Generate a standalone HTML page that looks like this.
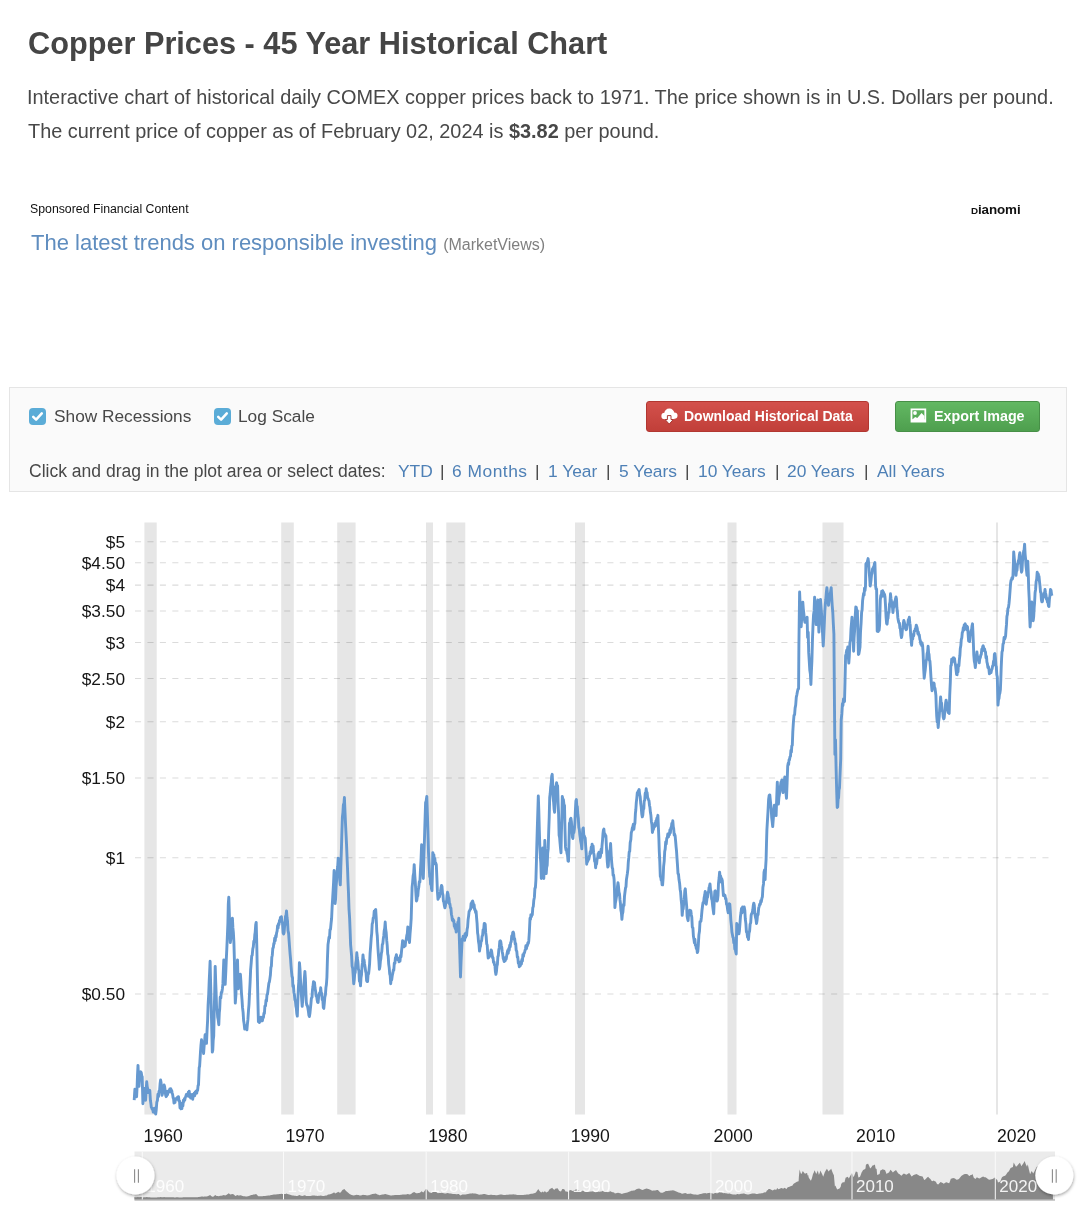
<!DOCTYPE html>
<html><head><meta charset="utf-8">
<style>
html,body{margin:0;padding:0;background:#fff;}
body{width:1079px;height:1215px;overflow:hidden;position:relative;font-family:"Liberation Sans",sans-serif;}
.a{position:absolute;white-space:nowrap;line-height:normal;will-change:transform;}
.ttl{font-weight:bold;color:#454545;}
.para{color:#484848;}
.lbl{color:#484848;}
.lnk{color:#4e80b6;}
#box{left:9px;top:387px;width:1056px;height:103px;background:#fafafa;border:1px solid #e5e5e5;}
.cb{position:absolute;width:17px;height:17.4px;border-radius:4px;background:#5bacd7;}
.btn{position:absolute;height:31px;border-radius:3px;color:#fff;font-weight:bold;box-sizing:border-box;}
#dl{left:645.5px;top:400.5px;width:223.5px;background:linear-gradient(#d3514c,#c13f39);border:1px solid #b23731;}
#ex{left:894.8px;top:400.7px;width:144.8px;background:linear-gradient(#63b863,#4e9f4e);border:1px solid #478f47;}
svg.main{position:absolute;left:0;top:0;will-change:transform;}
</style></head><body>
<div class="a ttl" style="left:28.3px;top:26.1px;font-size:30.7px;">Copper Prices - 45 Year Historical Chart</div>
<div class="a para" style="left:27.3px;top:85.5px;font-size:19.9px;">Interactive chart of historical daily COMEX copper prices back to 1971. The price shown is in U.S. Dollars per pound.</div>
<div class="a para" style="left:27.8px;top:120.3px;font-size:19.9px;">The current price of copper as of February 02, 2024 is <b>$3.82</b> per pound.</div>
<div class="a " style="left:30.0px;top:202.0px;font-size:12.3px;color:#111">Sponsored Financial Content</div>
<div class="a" style="left:970.5px;top:204.5px;font-size:13.4px;line-height:10px;font-weight:bold;color:#111;letter-spacing:-0.1px"><span style="font-size:9.8px">D</span>ianomi</div>
<div class="a " style="left:30.6px;top:230.4px;font-size:22px;color:#5f8dbf">The latest trends on responsible investing <span style="font-size:16px;color:#808080">(MarketViews)</span></div>
<div class="a" id="box"></div>
<div class="cb" style="left:29.3px;top:407.6px"><svg width="17" height="17" viewBox="0 0 17 17" style="position:absolute;left:0;top:0"><path d="M4.2 8.9 L7.1 11.7 L12.8 5.4" stroke="#fff" stroke-width="2.5" fill="none" stroke-linecap="round" stroke-linejoin="round"/></svg></div>
<div class="cb" style="left:214.2px;top:407.6px"><svg width="17" height="17" viewBox="0 0 17 17" style="position:absolute;left:0;top:0"><path d="M4.2 8.9 L7.1 11.7 L12.8 5.4" stroke="#fff" stroke-width="2.5" fill="none" stroke-linecap="round" stroke-linejoin="round"/></svg></div>
<div class="a lbl" style="left:54.0px;top:405.8px;font-size:17.3px;">Show Recessions</div>
<div class="a lbl" style="left:238.0px;top:405.8px;font-size:17.3px;">Log Scale</div>
<div class="a lbl" style="left:29.0px;top:461.2px;font-size:17.55px;">Click and drag in the plot area or select dates:</div>
<div class="a lnk" style="left:398.0px;top:461.3px;font-size:17.4px;">YTD</div>
<div class="a lnk" style="left:452.0px;top:461.3px;font-size:17.4px;"><span style="letter-spacing:0.5px">6 Months</span></div>
<div class="a lnk" style="left:547.5px;top:461.3px;font-size:17.4px;">1 Year</div>
<div class="a lnk" style="left:618.5px;top:461.3px;font-size:17.4px;">5 Years</div>
<div class="a lnk" style="left:697.5px;top:461.3px;font-size:17.4px;">10 Years</div>
<div class="a lnk" style="left:787.0px;top:461.3px;font-size:17.4px;">20 Years</div>
<div class="a lnk" style="left:876.5px;top:461.3px;font-size:17.4px;">All Years</div>
<div class="a lbl" style="left:439.5px;top:461.3px;font-size:17.4px;">|</div>
<div class="a lbl" style="left:534.7px;top:461.3px;font-size:17.4px;">|</div>
<div class="a lbl" style="left:606.2px;top:461.3px;font-size:17.4px;">|</div>
<div class="a lbl" style="left:685.2px;top:461.3px;font-size:17.4px;">|</div>
<div class="a lbl" style="left:774.5px;top:461.3px;font-size:17.4px;">|</div>
<div class="a lbl" style="left:864.3px;top:461.3px;font-size:17.4px;">|</div>
<div class="btn" id="dl"><svg width="224" height="31" viewBox="0 0 224 31" style="position:absolute;left:-1px;top:-1px"><g fill="#fff"><circle cx="23.3" cy="12.6" r="5"/><circle cx="18.6" cy="15" r="3.2"/><circle cx="28.3" cy="14.6" r="3.2"/><rect x="18.6" y="13" width="9.7" height="5.2"/></g><path d="M21.4 14.6 h3.6 v3.9 h2.3 l-4.1 4.6 l-4.1 -4.6 h2.3 Z" fill="#fff" stroke="#a83a34" stroke-width="1"/></svg><span class="a" style="left:37.5px;top:6px;font-size:14px">Download Historical Data</span></div>
<div class="btn" id="ex"><svg width="145" height="31" viewBox="0 0 145 31" style="position:absolute;left:-1px;top:-1px"><path fill-rule="evenodd" fill="#fff" d="M15.6 7.4 h15.6 v14.2 h-15.6 Z M17.4 9.2 v9 h12 v-9 Z"/><circle cx="20" cy="12" r="1.9" fill="#fff"/><path d="M17.4 18.4 L20.2 16 L22.3 17.1 L26.6 12 L29.4 15 L29.4 19 L17.4 19 Z" fill="#fff"/></svg><span class="a" style="left:38px;top:6px;font-size:14.3px">Export Image</span></div>
<svg class="main" width="1079" height="1215" viewBox="0 0 1079 1215">
<g><rect x="144.4" y="522.5" width="12.3" height="592" fill="#e6e6e6"/><rect x="281.2" y="522.5" width="12.6" height="592" fill="#e6e6e6"/><rect x="337.2" y="522.5" width="18.4" height="592" fill="#e6e6e6"/><rect x="426.0" y="522.5" width="7.0" height="592" fill="#e6e6e6"/><rect x="446.3" y="522.5" width="19.0" height="592" fill="#e6e6e6"/><rect x="575.0" y="522.5" width="10.0" height="592" fill="#e6e6e6"/><rect x="727.5" y="522.5" width="9.0" height="592" fill="#e6e6e6"/><rect x="822.5" y="522.5" width="21.0" height="592" fill="#e6e6e6"/><rect x="996.0" y="522.5" width="2.0" height="592" fill="#e6e6e6"/></g>
<g><line x1="135" y1="541.8" x2="1050" y2="541.8" stroke="#000" stroke-opacity="0.14" stroke-width="1.1" stroke-dasharray="6.1,6.33"/><line x1="135" y1="562.7" x2="1050" y2="562.7" stroke="#000" stroke-opacity="0.14" stroke-width="1.1" stroke-dasharray="6.1,6.33"/><line x1="135" y1="585.1" x2="1050" y2="585.1" stroke="#000" stroke-opacity="0.14" stroke-width="1.1" stroke-dasharray="6.1,6.33"/><line x1="135" y1="611.0" x2="1050" y2="611.0" stroke="#000" stroke-opacity="0.14" stroke-width="1.1" stroke-dasharray="6.1,6.33"/><line x1="135" y1="642.5" x2="1050" y2="642.5" stroke="#000" stroke-opacity="0.14" stroke-width="1.1" stroke-dasharray="6.1,6.33"/><line x1="135" y1="678.5" x2="1050" y2="678.5" stroke="#000" stroke-opacity="0.14" stroke-width="1.1" stroke-dasharray="6.1,6.33"/><line x1="135" y1="721.7" x2="1050" y2="721.7" stroke="#000" stroke-opacity="0.14" stroke-width="1.1" stroke-dasharray="6.1,6.33"/><line x1="135" y1="778.0" x2="1050" y2="778.0" stroke="#000" stroke-opacity="0.14" stroke-width="1.1" stroke-dasharray="6.1,6.33"/><line x1="135" y1="857.8" x2="1050" y2="857.8" stroke="#000" stroke-opacity="0.14" stroke-width="1.1" stroke-dasharray="6.1,6.33"/><line x1="135" y1="994.0" x2="1050" y2="994.0" stroke="#000" stroke-opacity="0.14" stroke-width="1.1" stroke-dasharray="6.1,6.33"/></g>
<g font-family="Liberation Sans" font-size="17.3" fill="#151515"><text x="125" y="548.0" text-anchor="end">$5</text><text x="125" y="568.9" text-anchor="end">$4.50</text><text x="125" y="591.3" text-anchor="end">$4</text><text x="125" y="617.2" text-anchor="end">$3.50</text><text x="125" y="648.7" text-anchor="end">$3</text><text x="125" y="684.7" text-anchor="end">$2.50</text><text x="125" y="727.9" text-anchor="end">$2</text><text x="125" y="784.2" text-anchor="end">$1.50</text><text x="125" y="864.0" text-anchor="end">$1</text><text x="125" y="1000.2" text-anchor="end">$0.50</text></g>
<g font-family="Liberation Sans" font-size="17.6" fill="#151515"><text x="143.6" y="1141.5">1960</text><text x="285.5" y="1141.5">1970</text><text x="428.3" y="1141.5">1980</text><text x="570.7" y="1141.5">1990</text><text x="713.6" y="1141.5">2000</text><text x="856.1" y="1141.5">2010</text><text x="997.0" y="1141.5">2020</text></g>
<path d="M134.2,1100.2 L134.9,1089.1 L135.5,1091.0 L136.0,1095.6 L136.6,1096.7 L137.1,1086.8 L137.5,1075.3 L138.0,1065.4 L138.5,1077.3 L139.0,1086.3 L139.5,1079.7 L139.9,1078.6 L140.4,1073.8 L140.8,1071.8 L141.3,1072.9 L141.8,1076.1 L142.2,1076.6 L142.9,1103.7 L143.5,1097.8 L144.0,1094.4 L144.6,1088.4 L145.1,1094.2 L145.6,1100.2 L146.1,1091.2 L146.7,1081.8 L147.2,1086.7 L147.6,1088.3 L148.1,1092.5 L148.7,1090.0 L149.2,1092.3 L149.8,1090.5 L150.4,1100.3 L150.9,1103.7 L151.3,1107.2 L151.8,1108.0 L152.2,1109.2 L152.7,1108.5 L153.2,1112.1 L153.7,1109.3 L154.2,1112.2 L154.7,1108.1 L155.2,1112.6 L155.7,1114.1 L156.2,1110.1 L156.8,1102.3 L157.4,1100.6 L157.9,1094.3 L158.5,1096.7 L159.0,1091.2 L159.6,1090.3 L160.1,1083.8 L160.6,1080.0 L161.1,1082.8 L161.5,1089.6 L162.0,1095.3 L162.5,1093.6 L163.1,1088.8 L163.6,1090.0 L164.1,1084.9 L164.6,1086.4 L165.1,1090.1 L165.6,1094.8 L166.1,1096.7 L166.6,1096.0 L167.0,1091.4 L167.5,1094.9 L168.0,1091.1 L168.4,1092.4 L168.9,1090.5 L169.4,1091.4 L169.8,1089.0 L170.3,1091.8 L170.8,1088.8 L171.2,1092.0 L171.7,1090.5 L172.2,1093.1 L172.6,1094.4 L173.1,1097.7 L173.6,1099.0 L174.0,1103.0 L174.5,1102.3 L175.0,1102.4 L175.5,1098.8 L176.0,1099.5 L176.5,1099.2 L177.0,1099.3 L177.5,1097.3 L178.0,1099.1 L178.5,1096.7 L179.0,1101.1 L179.5,1100.9 L180.0,1107.8 L180.5,1106.4 L181.0,1108.9 L181.5,1103.3 L181.9,1108.5 L182.4,1102.9 L182.9,1105.9 L183.4,1100.3 L183.9,1101.4 L184.4,1098.8 L184.8,1100.1 L185.3,1097.2 L185.8,1096.4 L186.3,1094.6 L186.8,1095.4 L187.3,1095.3 L187.8,1096.0 L188.3,1092.2 L188.8,1094.7 L189.2,1091.2 L189.7,1097.0 L190.2,1094.2 L190.7,1098.0 L191.2,1096.7 L191.7,1098.0 L192.2,1094.4 L192.7,1099.2 L193.2,1095.4 L193.7,1095.5 L194.2,1093.2 L194.7,1095.8 L195.2,1091.9 L195.7,1093.0 L196.2,1091.0 L196.7,1093.2 L197.1,1090.4 L197.6,1090.5 L198.1,1085.5 L198.5,1084.9 L199.2,1067.5 L199.6,1066.4 L200.0,1060.0 L200.5,1051.5 L201.0,1044.9 L201.5,1039.8 L202.0,1041.9 L202.6,1047.8 L203.1,1049.5 L203.6,1053.5 L204.1,1046.4 L204.6,1041.7 L205.1,1034.8 L205.6,1039.6 L206.0,1040.8 L206.5,1043.4 L207.1,1029.6 L207.6,1020.5 L208.1,1005.1 L208.7,994.5 L209.2,981.1 L209.6,972.8 L210.1,961.3 L210.7,986.5 L211.2,1006.0 L211.8,1030.7 L212.3,1052.1 L212.8,1050.0 L213.2,1040.4 L213.7,1036.2 L214.2,1012.7 L214.7,992.0 L215.2,966.4 L215.7,982.1 L216.1,992.0 L216.6,1008.9 L217.2,1009.6 L217.7,1017.3 L218.2,1019.6 L218.8,1024.7 L219.3,1012.9 L219.7,1009.0 L220.2,997.3 L220.8,998.1 L221.3,992.4 L221.8,992.5 L222.4,988.7 L222.9,983.9 L223.3,972.4 L223.8,959.9 L224.3,967.7 L224.7,975.8 L225.2,984.4 L225.8,971.7 L226.3,959.4 L226.8,949.0 L227.4,935.4 L227.9,922.9 L228.3,903.9 L228.8,897.2 L229.3,912.8 L229.8,929.9 L230.3,942.6 L230.8,938.7 L231.4,930.6 L231.9,923.1 L232.4,918.1 L232.9,927.9 L233.4,933.0 L233.9,942.6 L234.4,960.0 L234.8,984.0 L235.3,1003.1 L235.9,994.8 L236.4,980.2 L236.9,971.9 L237.5,959.9 L238.2,988.7 L238.8,984.2 L239.3,981.5 L239.8,978.4 L240.4,974.3 L240.9,981.5 L241.4,992.1 L242.0,999.5 L242.5,1007.4 L243.1,1012.4 L243.6,1020.5 L244.1,1023.6 L244.7,1029.0 L245.2,1028.4 L245.8,1028.1 L246.3,1025.4 L246.9,1029.8 L247.4,1024.1 L247.9,1019.7 L248.5,1010.4 L249.0,1004.5 L249.6,991.7 L250.1,982.3 L250.6,970.2 L251.2,962.8 L251.7,956.1 L252.2,955.3 L252.8,948.8 L253.3,946.9 L253.8,941.2 L254.3,942.1 L254.8,934.8 L255.2,932.1 L255.7,924.9 L256.2,922.4 L256.8,945.8 L257.3,972.1 L257.8,995.7 L258.4,1021.8 L258.9,1019.9 L259.4,1022.6 L259.9,1018.4 L260.4,1021.4 L260.9,1017.1 L261.4,1019.6 L261.9,1017.4 L262.4,1020.9 L262.9,1017.5 L263.4,1017.5 L263.9,1013.3 L264.4,1013.5 L264.9,1006.0 L265.5,1005.9 L266.0,1000.2 L266.5,1001.1 L267.0,994.5 L267.5,994.2 L268.0,990.1 L268.4,987.0 L268.9,983.0 L269.4,981.9 L269.9,978.6 L270.4,975.0 L270.9,967.4 L271.4,966.0 L271.8,957.4 L272.3,955.2 L272.8,948.4 L273.3,947.7 L273.8,943.4 L274.2,943.7 L274.7,938.2 L275.2,940.8 L275.7,935.7 L276.1,937.1 L276.6,932.9 L277.1,931.1 L277.6,925.6 L278.1,928.1 L278.5,923.6 L279.0,924.7 L279.5,920.4 L280.0,921.4 L280.4,917.5 L280.9,918.2 L281.4,916.7 L281.9,921.1 L282.5,922.9 L283.1,932.9 L283.6,934.0 L284.1,932.5 L284.6,926.2 L285.1,923.6 L285.5,916.3 L286.0,915.7 L286.5,910.9 L287.0,917.3 L287.5,920.9 L288.0,930.5 L288.6,933.4 L289.1,940.7 L289.6,947.5 L290.1,954.1 L290.6,959.4 L291.0,965.5 L291.5,971.4 L292.0,976.4 L292.5,977.6 L292.9,986.5 L293.4,985.3 L293.9,992.2 L294.4,994.5 L294.9,999.8 L295.4,1000.7 L295.9,1006.1 L296.3,1007.9 L296.8,1013.7 L297.3,1016.1 L297.8,1002.1 L298.4,987.0 L298.9,980.2 L299.4,962.8 L299.5,963.1 L300.0,969.4 L300.6,982.1 L301.1,990.4 L301.7,999.6 L302.2,1006.3 L302.7,1000.5 L303.3,991.7 L303.8,986.3 L304.4,977.5 L304.9,971.4 L305.4,978.6 L305.8,990.5 L306.3,1002.2 L306.8,1005.3 L307.3,1005.4 L307.9,1008.3 L308.4,1011.2 L308.9,1015.2 L309.4,1016.6 L309.9,1013.6 L310.4,1008.5 L310.9,1003.8 L311.4,998.1 L312.0,997.4 L312.5,989.6 L313.0,986.3 L313.5,981.6 L314.0,985.4 L314.5,982.4 L315.0,987.8 L315.6,991.2 L316.1,996.0 L316.6,995.6 L317.1,999.8 L317.6,1002.2 L318.1,1002.5 L318.6,997.2 L319.1,994.0 L319.7,992.7 L320.2,993.2 L320.7,987.8 L321.2,992.7 L321.7,993.3 L322.2,999.6 L322.8,999.9 L323.3,1007.5 L323.8,1008.4 L324.3,1003.4 L324.8,997.5 L325.4,994.8 L325.9,987.8 L326.4,984.5 L326.9,977.5 L327.4,960.1 L328.0,944.6 L328.5,941.1 L329.0,937.2 L329.5,938.1 L330.0,929.6 L330.5,929.4 L331.0,924.0 L331.6,918.5 L332.1,907.6 L332.6,899.1 L333.1,890.8 L333.6,882.1 L334.1,870.5 L334.6,885.6 L335.1,903.5 L335.6,898.8 L336.1,887.0 L336.6,880.1 L337.2,870.2 L337.7,866.5 L338.2,858.2 L338.7,866.9 L339.2,869.7 L339.8,880.4 L340.3,884.9 L340.8,867.6 L341.4,849.6 L341.9,832.2 L342.4,817.0 L342.9,812.6 L343.4,804.5 L343.9,804.6 L344.4,797.5 L345.0,811.8 L345.5,823.5 L346.1,835.6 L346.6,846.1 L347.1,858.6 L347.5,867.5 L348.0,881.9 L348.5,893.2 L349.0,908.8 L349.6,917.9 L350.1,930.3 L350.6,944.6 L351.1,950.2 L351.6,955.8 L352.1,966.2 L352.7,968.3 L353.2,975.5 L353.7,983.7 L354.2,980.1 L354.7,973.7 L355.2,972.7 L355.8,963.3 L356.3,960.6 L356.8,952.8 L357.3,958.1 L357.9,961.9 L358.4,969.1 L358.9,970.9 L359.4,981.3 L360.0,981.0 L360.5,985.8 L361.0,977.7 L361.5,974.8 L362.0,966.5 L362.5,962.4 L363.0,954.9 L363.5,960.3 L364.0,959.8 L364.5,963.5 L365.1,967.3 L365.6,971.1 L366.1,973.3 L366.6,980.6 L367.1,981.6 L367.6,981.5 L368.1,974.1 L368.6,973.9 L369.1,969.3 L369.6,963.8 L370.1,953.1 L370.6,946.9 L371.2,938.2 L371.7,933.3 L372.2,924.0 L372.7,922.6 L373.2,917.8 L373.7,917.6 L374.2,911.3 L374.7,913.1 L375.2,909.9 L375.7,909.6 L376.2,917.7 L376.8,931.3 L377.3,936.0 L377.8,945.9 L378.3,953.4 L378.9,960.9 L379.4,969.3 L379.9,966.8 L380.4,961.1 L380.8,959.0 L381.3,953.8 L381.8,951.5 L382.3,944.6 L382.8,943.8 L383.3,938.8 L383.8,935.7 L384.2,930.7 L384.7,928.4 L385.2,922.0 L385.7,929.5 L386.2,932.6 L386.7,940.2 L387.2,945.4 L387.7,953.8 L388.2,955.8 L388.7,964.1 L389.2,967.6 L389.7,973.9 L390.2,975.7 L390.7,983.7 L391.2,978.7 L391.7,979.9 L392.3,975.3 L392.8,973.2 L393.3,969.9 L393.8,970.1 L394.3,963.1 L394.9,963.4 L395.4,958.0 L395.9,957.0 L396.4,954.7 L396.9,959.3 L397.4,957.7 L397.9,959.7 L398.5,958.2 L399.0,961.7 L399.5,958.3 L400.0,961.1 L400.5,955.5 L401.0,956.9 L401.6,950.3 L402.1,946.0 L402.6,940.7 L403.1,942.8 L403.6,942.3 L404.2,946.7 L404.7,944.4 L405.2,945.9 L405.7,940.8 L406.2,940.0 L406.8,935.4 L407.3,933.6 L407.8,926.9 L408.4,934.1 L408.9,938.5 L409.5,942.5 L410.1,933.0 L410.6,927.4 L411.2,918.3 L411.6,904.1 L412.1,887.2 L412.6,882.6 L413.1,876.1 L413.7,873.1 L414.2,864.7 L414.8,875.3 L415.3,882.1 L415.8,892.0 L416.4,901.0 L416.8,900.2 L417.3,896.5 L417.8,895.9 L418.2,890.6 L418.8,887.1 L419.3,881.6 L419.9,882.0 L420.5,868.7 L421.0,860.0 L421.6,844.8 L422.2,860.4 L422.7,867.0 L423.3,878.5 L423.8,863.2 L424.2,848.6 L424.7,831.3 L425.1,818.0 L425.6,802.5 L426.2,801.0 L426.8,796.4 L427.4,814.4 L427.9,830.4 L428.5,852.6 L429.1,865.2 L429.7,876.8 L430.2,877.3 L430.6,884.3 L431.1,883.7 L431.5,888.7 L432.0,890.6 L432.4,874.8 L432.8,852.6 L433.3,855.1 L433.8,854.7 L434.3,859.3 L434.8,858.5 L435.3,864.0 L435.8,863.1 L436.3,864.7 L436.9,878.0 L437.4,891.4 L438.0,899.3 L438.5,898.0 L439.0,895.6 L439.5,896.8 L440.0,893.6 L440.5,891.3 L441.0,888.1 L441.5,885.4 L442.0,886.6 L442.5,893.1 L443.0,895.1 L443.4,901.1 L443.9,902.2 L444.4,905.7 L444.9,907.9 L445.4,905.9 L445.9,901.7 L446.5,902.8 L447.0,895.6 L447.5,892.3 L448.0,894.0 L448.5,897.4 L449.0,898.3 L449.5,904.1 L449.9,903.9 L450.4,907.7 L450.9,908.0 L451.4,914.2 L451.9,916.5 L452.4,920.4 L452.9,919.1 L453.3,921.3 L453.8,920.5 L454.3,926.4 L454.8,924.2 L455.2,928.6 L455.7,927.7 L456.2,932.1 L456.7,928.9 L457.2,928.7 L457.8,922.3 L458.3,923.3 L458.8,918.3 L459.4,940.6 L459.9,956.6 L460.5,977.0 L461.1,960.8 L461.6,950.6 L462.2,939.0 L462.7,939.5 L463.2,936.3 L463.7,940.0 L464.2,937.0 L464.6,940.3 L465.1,933.7 L465.6,937.3 L466.1,932.9 L466.6,935.5 L467.1,929.4 L467.6,927.0 L468.1,919.6 L468.6,916.1 L469.1,911.3 L469.6,910.9 L470.1,909.4 L470.6,909.1 L471.1,903.5 L471.6,906.4 L472.1,901.7 L472.6,901.0 L473.1,902.6 L473.6,907.5 L474.1,904.6 L474.6,909.6 L475.1,909.5 L475.6,912.4 L476.1,911.3 L476.6,917.9 L477.1,923.7 L477.6,933.1 L478.0,935.3 L478.5,941.6 L479.0,944.4 L479.5,951.1 L480.0,947.5 L480.5,946.2 L481.1,941.1 L481.6,940.9 L482.1,936.2 L482.6,935.4 L483.1,929.7 L483.7,929.6 L484.2,923.5 L484.7,923.4 L485.2,924.2 L485.7,932.7 L486.2,936.8 L486.7,943.9 L487.2,945.0 L487.7,952.5 L488.2,958.0 L488.7,957.5 L489.2,955.0 L489.7,956.3 L490.1,952.9 L490.6,955.0 L491.1,949.9 L491.6,951.1 L492.1,954.6 L492.6,957.8 L493.0,957.7 L493.5,962.4 L494.0,961.8 L494.5,964.9 L494.9,965.0 L495.4,971.8 L495.9,974.4 L496.4,971.8 L496.9,966.2 L497.4,964.4 L497.9,956.3 L498.3,955.8 L498.8,949.9 L499.3,947.7 L499.8,941.2 L500.3,940.7 L500.8,941.8 L501.3,945.5 L501.8,947.4 L502.2,951.7 L502.7,954.1 L503.2,958.4 L503.7,959.7 L504.2,961.6 L504.7,959.0 L505.2,960.8 L505.7,957.5 L506.2,959.0 L506.7,955.8 L507.2,952.8 L507.7,950.5 L508.2,953.3 L508.7,948.7 L509.2,950.3 L509.7,945.3 L510.2,946.9 L510.7,942.3 L511.2,941.9 L511.7,936.0 L512.2,938.2 L512.7,932.6 L513.2,932.1 L513.7,933.5 L514.2,939.5 L514.7,938.8 L515.2,944.0 L515.7,943.5 L516.2,950.3 L516.8,951.4 L517.3,957.2 L517.8,957.0 L518.3,963.2 L518.8,962.8 L519.3,966.7 L519.8,963.4 L520.3,965.8 L520.9,961.7 L521.4,964.1 L521.9,959.4 L522.4,961.2 L522.9,954.7 L523.5,956.3 L524.0,953.0 L524.5,952.8 L525.0,950.5 L525.5,948.8 L525.9,945.8 L526.4,948.7 L526.9,946.0 L527.4,945.7 L527.8,942.9 L528.3,943.5 L528.8,940.7 L529.4,931.5 L530.0,918.3 L530.5,919.5 L530.9,914.7 L531.4,916.7 L531.8,914.5 L532.3,914.6 L532.8,907.7 L533.3,906.5 L533.8,900.2 L534.4,897.2 L534.9,888.3 L535.4,887.6 L535.9,880.0 L536.4,862.6 L536.8,845.8 L537.3,828.1 L537.8,812.5 L538.3,796.0 L538.8,810.4 L539.3,829.3 L539.8,846.0 L540.3,856.0 L540.8,863.1 L541.3,878.5 L541.8,866.8 L542.3,861.5 L542.8,847.9 L543.3,863.2 L543.8,878.5 L544.3,861.8 L544.8,840.5 L545.3,852.6 L545.7,862.4 L546.2,873.6 L546.7,867.0 L547.2,865.3 L547.7,853.0 L548.2,848.9 L548.7,831.3 L549.2,817.8 L549.7,797.5 L550.2,793.5 L550.7,786.6 L551.2,783.3 L551.7,776.2 L552.2,774.3 L552.7,783.8 L553.1,797.5 L553.6,802.0 L554.1,809.2 L554.6,812.3 L555.1,802.4 L555.6,786.7 L556.1,786.5 L556.6,782.6 L557.1,786.5 L557.6,785.7 L558.1,802.9 L558.6,813.9 L559.1,835.1 L559.6,837.4 L560.0,842.4 L560.5,848.1 L561.0,852.8 L561.4,832.4 L561.9,816.5 L562.3,796.5 L562.8,798.8 L563.4,799.6 L564.0,805.0 L564.5,805.4 L565.0,829.3 L565.5,846.9 L566.0,850.0 L566.5,849.8 L567.0,853.4 L567.5,855.1 L568.0,860.9 L568.5,861.2 L569.0,842.4 L569.4,823.2 L569.9,823.2 L570.4,819.0 L570.9,818.3 L571.4,821.4 L571.9,830.7 L572.4,837.0 L572.9,838.5 L573.4,831.5 L573.9,832.6 L574.4,829.1 L574.9,822.0 L575.4,810.2 L575.9,801.0 L576.4,799.6 L576.8,806.3 L577.3,806.4 L577.8,814.3 L578.3,818.2 L578.8,827.2 L579.3,829.3 L579.8,834.5 L580.3,838.0 L580.8,841.8 L581.3,844.4 L581.8,848.9 L582.3,838.0 L582.8,829.1 L583.3,827.9 L583.8,835.3 L584.2,835.7 L584.7,837.2 L585.2,838.0 L585.7,846.5 L586.2,853.1 L586.7,864.2 L587.2,859.7 L587.7,861.5 L588.2,858.1 L588.7,859.5 L589.2,857.3 L589.7,854.8 L590.2,851.8 L590.7,853.7 L591.2,847.2 L591.6,849.9 L592.1,844.2 L592.6,848.4 L593.1,845.9 L593.6,852.7 L594.1,855.2 L594.6,861.3 L595.1,860.8 L595.6,867.7 L596.1,863.6 L596.6,863.9 L597.1,859.1 L597.6,858.1 L598.1,853.8 L598.6,856.4 L599.0,852.2 L599.5,857.3 L600.0,857.6 L600.5,856.0 L601.1,849.3 L601.6,852.9 L602.0,845.9 L602.5,840.6 L603.0,833.4 L603.4,830.2 L603.9,829.1 L604.4,836.0 L604.9,833.9 L605.4,835.6 L605.9,835.7 L606.4,846.2 L606.8,853.5 L607.3,862.1 L607.8,867.0 L608.3,866.1 L608.7,856.5 L609.2,855.6 L609.7,850.6 L610.1,850.0 L610.6,843.5 L611.2,855.6 L611.7,862.3 L612.2,867.7 L612.7,868.8 L613.1,875.4 L613.6,875.1 L614.1,879.5 L614.5,890.3 L614.9,907.6 L615.4,902.6 L615.9,900.3 L616.5,896.3 L617.0,894.5 L617.5,886.4 L618.0,882.6 L618.5,886.6 L619.0,892.3 L619.5,893.9 L620.0,899.9 L620.4,903.1 L620.9,910.2 L621.4,912.6 L621.9,919.3 L622.4,913.9 L622.9,912.2 L623.5,904.4 L624.0,905.4 L624.5,896.1 L625.0,892.0 L625.5,888.1 L626.0,886.7 L626.4,879.8 L626.9,876.6 L627.4,873.2 L627.9,869.1 L628.3,862.2 L628.8,857.4 L629.2,851.9 L629.7,851.3 L630.2,842.6 L630.8,839.8 L631.3,832.5 L631.8,831.2 L632.3,828.1 L632.8,826.9 L633.4,824.1 L633.9,829.2 L634.4,824.7 L634.9,823.2 L635.4,813.4 L635.8,810.0 L636.3,802.4 L636.8,798.1 L637.3,792.7 L637.7,794.8 L638.2,791.2 L638.6,790.5 L639.1,789.5 L639.6,794.1 L640.2,796.8 L640.7,803.3 L641.2,807.1 L641.8,814.3 L642.3,816.9 L642.8,815.1 L643.3,809.1 L643.8,808.8 L644.2,801.0 L644.7,800.3 L645.2,793.3 L645.7,793.6 L646.2,788.8 L646.7,793.2 L647.1,792.5 L647.6,797.5 L648.0,798.3 L648.5,799.7 L649.0,800.9 L649.5,805.5 L649.9,807.2 L650.4,812.3 L650.9,815.3 L651.4,821.4 L651.9,824.5 L652.4,832.5 L652.9,829.7 L653.4,829.6 L653.9,825.5 L654.4,827.1 L654.9,823.2 L655.4,826.1 L655.9,821.0 L656.4,820.6 L656.9,818.1 L657.4,817.8 L657.9,815.3 L658.4,827.5 L658.9,839.1 L659.3,851.8 L659.8,861.6 L660.3,876.3 L660.8,877.4 L661.2,880.4 L661.7,880.4 L662.1,884.8 L662.6,884.9 L663.1,878.5 L663.6,866.7 L664.2,861.1 L664.7,851.5 L665.2,849.1 L665.7,841.9 L666.2,844.1 L666.8,838.1 L667.3,837.9 L667.8,834.0 L668.4,836.9 L668.9,834.1 L669.4,834.8 L669.9,830.0 L670.4,832.7 L670.8,828.0 L671.3,828.1 L671.8,823.5 L672.3,824.4 L672.8,820.8 L673.3,826.9 L673.7,828.8 L674.2,835.1 L674.6,834.1 L675.1,835.7 L675.6,840.9 L676.1,846.8 L676.5,850.7 L677.0,858.4 L677.5,865.4 L678.0,873.6 L678.5,874.2 L679.0,879.6 L679.6,883.2 L680.1,889.2 L680.6,892.0 L681.1,899.0 L681.7,904.9 L682.2,915.4 L682.7,909.4 L683.2,908.9 L683.8,902.0 L684.3,899.4 L684.8,890.7 L685.3,888.8 L685.8,895.9 L686.2,901.1 L686.7,906.6 L687.1,916.3 L687.6,918.6 L688.1,920.7 L688.7,912.4 L689.2,915.1 L689.7,910.3 L690.3,913.1 L690.8,910.7 L691.3,914.7 L691.8,917.2 L692.3,927.3 L692.9,927.8 L693.4,936.1 L693.9,938.9 L694.4,942.9 L694.9,939.3 L695.4,945.4 L695.8,945.0 L696.3,948.5 L696.8,947.4 L697.3,952.6 L697.8,951.4 L698.3,945.3 L698.9,934.9 L699.5,931.0 L700.0,921.7 L700.5,921.7 L700.9,921.3 L701.4,917.2 L702.0,910.3 L702.5,906.3 L703.0,902.8 L703.6,903.2 L704.1,897.8 L704.7,895.2 L705.2,891.4 L705.7,900.0 L706.2,904.2 L706.7,900.9 L707.2,896.7 L707.6,897.1 L708.1,892.3 L708.6,892.0 L709.0,887.8 L709.5,886.4 L710.0,883.9 L710.5,889.9 L711.1,891.9 L711.6,898.8 L712.1,900.4 L712.7,906.4 L713.2,910.0 L713.7,913.8 L714.2,901.4 L714.8,891.4 L715.3,890.9 L715.9,896.8 L716.4,896.4 L717.0,901.1 L717.5,899.9 L718.0,895.7 L718.5,883.4 L719.1,878.0 L719.6,872.1 L720.1,876.3 L720.7,876.2 L721.2,882.1 L721.8,878.8 L722.3,880.7 L722.8,887.7 L723.4,895.6 L723.9,894.3 L724.4,895.9 L725.0,895.4 L725.5,898.8 L726.0,898.8 L726.5,904.2 L727.1,905.5 L727.7,910.3 L728.2,912.8 L728.7,911.5 L729.3,903.8 L729.8,904.2 L730.3,911.2 L730.8,919.8 L731.4,925.5 L731.9,932.0 L732.4,934.5 L732.9,937.3 L733.3,937.5 L733.8,942.8 L734.3,941.1 L734.8,949.1 L735.2,948.7 L735.7,951.7 L736.2,954.0 L736.7,923.5 L737.2,924.8 L737.8,927.5 L738.3,925.8 L738.9,933.9 L739.4,931.0 L739.9,924.4 L740.5,916.2 L741.0,912.8 L741.5,908.4 L742.1,912.7 L742.6,907.0 L743.1,909.0 L743.7,908.1 L744.2,906.9 L744.8,910.2 L745.3,919.0 L745.9,923.6 L746.4,932.0 L746.9,931.6 L747.5,937.2 L748.0,935.5 L748.5,939.5 L749.0,933.0 L749.6,931.1 L750.1,924.2 L750.7,922.7 L751.2,914.9 L751.7,913.5 L752.2,913.0 L752.8,909.9 L753.3,905.4 L753.8,903.1 L754.3,905.4 L754.9,914.2 L755.4,916.8 L756.0,919.4 L756.5,923.5 L757.0,920.8 L757.6,914.1 L758.1,914.6 L758.7,908.0 L759.2,906.3 L759.7,904.2 L760.3,904.3 L760.8,900.6 L761.3,901.8 L761.9,898.3 L762.4,896.7 L762.9,887.6 L763.5,883.9 L764.0,872.3 L764.5,870.0 L765.1,879.6 L765.6,867.8 L766.1,859.3 L766.5,843.2 L766.9,830.0 L767.5,819.7 L768.0,811.6 L768.6,799.5 L769.2,795.2 L769.8,794.9 L770.3,800.1 L770.8,805.1 L771.2,808.8 L771.7,817.7 L772.2,821.9 L772.7,826.6 L773.3,819.0 L773.8,812.1 L774.4,805.2 L775.0,808.4 L775.5,809.9 L776.1,815.6 L776.7,798.7 L777.3,782.2 L777.8,791.5 L778.4,804.1 L778.9,797.6 L779.4,794.8 L779.9,790.6 L780.4,786.7 L780.9,782.5 L781.4,781.9 L781.9,779.9 L782.5,788.9 L783.0,792.6 L783.5,787.8 L783.9,782.8 L784.3,781.0 L784.8,777.0 L785.4,785.1 L785.9,792.2 L786.5,798.3 L787.1,782.9 L787.7,766.1 L788.2,763.2 L788.6,764.5 L789.1,759.7 L789.5,759.8 L790.0,756.8 L790.5,756.1 L790.9,750.4 L791.4,752.2 L791.8,745.9 L792.3,745.3 L792.8,732.0 L793.4,722.3 L794.0,715.4 L794.6,714.6 L795.1,708.1 L795.7,705.0 L796.3,697.1 L796.9,694.6 L797.5,691.3 L798.0,689.1 L798.6,688.8 L798.9,644.9 L799.6,591.9 L800.1,603.8 L800.7,613.6 L801.2,626.7 L801.7,617.8 L802.3,611.7 L802.8,602.1 L803.3,608.8 L803.9,614.1 L804.5,620.1 L805.0,622.4 L805.5,622.0 L806.0,620.0 L806.6,622.4 L807.1,617.1 L807.6,637.4 L808.2,632.1 L808.7,652.4 L809.2,660.4 L809.8,670.2 L810.4,674.1 L810.9,684.5 L811.4,671.2 L811.9,660.9 L812.5,638.5 L813.0,625.6 L813.5,615.2 L814.1,610.9 L814.6,597.3 L815.1,606.4 L815.7,611.9 L816.2,624.6 L816.7,614.8 L817.3,609.0 L817.8,600.0 L818.3,617.8 L818.9,632.1 L819.4,620.1 L820.0,609.3 L820.5,599.4 L821.0,605.9 L821.6,614.7 L822.1,623.5 L822.7,636.3 L823.2,646.0 L823.7,637.2 L824.3,623.7 L824.8,611.7 L825.3,604.0 L825.8,599.5 L826.4,591.9 L826.9,587.7 L827.4,593.1 L828.0,602.1 L828.5,605.3 L829.0,600.8 L829.6,597.4 L830.1,595.5 L830.7,590.6 L831.2,587.7 L831.7,597.3 L832.2,605.3 L832.8,612.7 L833.3,623.2 L833.9,634.2 L834.4,697.0 L834.9,754.5 L835.5,739.6 L836.1,768.4 L836.7,791.4 L837.2,807.5 L837.7,806.8 L838.1,799.4 L838.6,797.8 L839.0,789.9 L839.5,788.0 L840.1,773.3 L840.7,759.1 L841.2,720.0 L841.8,713.9 L842.4,703.8 L842.9,705.5 L843.5,698.9 L844.0,701.3 L844.5,701.5 L845.0,682.5 L845.6,655.6 L846.1,654.1 L846.7,650.3 L847.2,651.1 L847.8,647.0 L848.3,656.1 L848.8,663.1 L849.3,656.1 L849.9,642.8 L850.5,639.7 L851.0,628.8 L851.5,623.2 L852.0,617.1 L852.5,629.5 L853.1,637.3 L853.6,651.3 L854.1,637.8 L854.7,629.2 L855.2,616.4 L855.8,606.9 L856.3,607.5 L856.9,612.2 L857.4,610.7 L857.9,634.1 L858.4,654.5 L858.9,653.8 L859.5,650.2 L860.0,647.0 L860.5,632.1 L861.1,622.9 L861.6,612.5 L862.1,610.1 L862.6,600.6 L863.1,597.0 L863.6,593.4 L864.1,595.2 L864.5,588.3 L865.0,590.6 L865.5,586.0 L865.9,564.0 L866.5,562.9 L867.0,565.7 L867.5,561.0 L868.1,558.6 L868.6,562.6 L869.2,572.5 L869.7,578.4 L870.2,586.0 L870.7,582.8 L871.1,579.3 L871.6,574.1 L872.0,573.7 L872.5,568.8 L873.0,570.0 L873.5,566.9 L873.9,567.1 L874.4,563.7 L874.9,562.5 L875.6,586.0 L876.1,589.2 L876.6,589.1 L877.2,631.3 L877.7,628.3 L878.2,631.6 L878.6,628.2 L879.1,630.4 L879.6,625.0 L880.3,600.0 L880.8,595.5 L881.3,597.1 L881.7,591.3 L882.2,592.6 L882.7,590.7 L883.2,593.4 L883.6,592.3 L884.1,596.2 L884.5,594.1 L885.0,596.9 L885.5,605.4 L886.1,617.5 L886.6,623.5 L887.1,624.1 L887.6,619.1 L888.0,618.4 L888.5,612.4 L889.0,612.5 L889.5,604.1 L890.0,602.1 L890.5,593.8 L891.0,598.7 L891.5,601.5 L891.9,606.5 L892.4,605.7 L892.9,612.5 L893.4,607.8 L893.9,607.1 L894.5,601.8 L895.0,602.6 L895.5,598.8 L896.0,596.9 L896.5,599.1 L896.9,608.0 L897.4,611.5 L897.8,617.4 L898.3,620.4 L898.8,622.8 L899.4,622.9 L899.9,628.0 L900.4,628.9 L901.0,635.2 L901.5,637.6 L902.0,634.9 L902.4,629.4 L902.9,627.5 L903.3,623.5 L903.8,620.4 L904.3,622.2 L904.8,624.3 L905.2,625.8 L905.7,629.1 L906.2,629.7 L906.7,628.9 L907.2,624.9 L907.8,624.5 L908.3,619.7 L908.8,620.1 L909.3,617.2 L909.8,623.2 L910.2,625.1 L910.7,635.7 L911.1,639.0 L911.6,645.4 L912.1,639.0 L912.7,639.1 L913.2,634.4 L913.7,635.9 L914.2,631.1 L914.8,631.1 L915.3,628.7 L915.8,628.2 L916.3,625.1 L916.8,626.7 L917.3,628.7 L917.8,633.7 L918.3,631.9 L918.8,635.4 L919.3,634.9 L919.8,639.0 L920.3,640.7 L920.8,644.1 L921.2,641.9 L921.7,645.6 L922.1,643.4 L922.6,645.4 L923.1,653.1 L923.7,669.2 L924.2,678.2 L924.7,673.8 L925.2,670.2 L925.7,664.9 L926.2,660.4 L926.6,659.8 L927.1,653.7 L927.6,651.8 L928.1,646.2 L928.6,652.9 L929.0,654.1 L929.5,660.7 L929.9,660.8 L930.4,667.3 L930.9,676.3 L931.5,685.1 L932.0,690.7 L932.5,687.6 L933.1,684.9 L933.6,682.9 L934.1,683.3 L934.5,687.7 L935.0,688.1 L935.4,691.2 L935.9,695.4 L936.3,706.9 L936.7,715.8 L937.2,721.8 L937.7,721.8 L938.2,727.5 L938.7,721.0 L939.2,716.9 L939.6,710.5 L940.1,704.3 L940.6,697.0 L941.1,702.6 L941.6,703.1 L942.2,710.9 L942.7,711.5 L943.2,717.1 L943.7,718.9 L944.2,717.8 L944.7,712.3 L945.1,710.7 L945.6,703.1 L946.1,700.1 L946.6,702.7 L947.1,708.6 L947.7,707.0 L948.2,712.6 L948.7,712.4 L949.2,713.4 L949.7,695.6 L950.3,682.4 L950.8,665.7 L951.3,665.3 L951.7,659.2 L952.2,661.5 L952.6,659.0 L953.1,657.9 L953.6,657.8 L954.0,661.4 L954.5,658.4 L955.0,662.9 L955.5,664.6 L956.1,670.3 L956.6,674.6 L957.1,674.7 L957.5,670.4 L958.0,671.8 L958.4,664.6 L958.9,666.0 L959.4,659.4 L959.9,655.3 L960.3,648.4 L960.8,645.8 L961.3,639.5 L961.8,637.8 L962.3,632.5 L962.8,631.6 L963.3,627.6 L963.8,630.1 L964.2,624.9 L964.7,625.0 L965.2,623.8 L965.7,628.0 L966.1,626.0 L966.6,629.5 L967.0,626.2 L967.5,627.0 L968.0,632.4 L968.6,640.9 L969.1,641.0 L969.6,641.5 L970.1,635.7 L970.6,633.2 L971.1,630.4 L971.5,630.9 L972.0,626.0 L972.5,623.8 L972.9,631.6 L973.4,644.2 L973.8,655.1 L974.3,661.2 L974.8,663.3 L975.3,667.6 L975.8,663.4 L976.4,658.0 L976.9,652.0 L977.4,656.8 L977.9,656.8 L978.3,658.3 L978.8,659.2 L979.3,662.9 L979.8,658.6 L980.3,657.6 L980.8,655.1 L981.3,654.4 L981.8,649.2 L982.2,650.6 L982.7,646.7 L983.2,645.7 L983.7,647.9 L984.1,650.6 L984.6,648.9 L985.0,651.4 L985.5,652.0 L986.0,657.8 L986.5,656.3 L986.9,661.9 L987.4,663.8 L987.9,667.6 L988.4,666.6 L988.9,669.0 L989.4,673.9 L989.9,673.3 L990.5,670.7 L991.0,672.6 L991.5,670.3 L992.1,668.8 L992.6,666.0 L993.1,665.4 L993.5,661.3 L994.0,661.9 L994.4,654.1 L994.9,653.5 L995.4,657.8 L995.9,665.7 L996.3,666.6 L996.8,674.8 L997.3,677.0 L998.0,705.1 L998.5,699.3 L999.0,698.6 L999.4,694.5 L999.9,693.0 L1000.4,689.5 L1000.8,679.7 L1001.2,667.6 L1001.6,658.8 L1002.0,652.0 L1002.5,650.6 L1003.0,644.0 L1003.5,643.4 L1004.1,637.5 L1004.6,639.2 L1005.1,637.9 L1005.6,635.9 L1006.0,630.2 L1006.5,624.4 L1006.9,616.4 L1007.4,614.4 L1007.9,608.6 L1008.5,607.4 L1009.0,603.5 L1009.5,598.2 L1010.1,590.0 L1010.6,583.2 L1011.1,580.1 L1011.5,579.8 L1012.0,577.6 L1012.4,579.0 L1012.9,576.9 L1013.3,566.2 L1013.7,551.9 L1014.2,557.7 L1014.6,561.4 L1015.1,565.6 L1015.5,568.4 L1016.0,575.3 L1016.5,570.8 L1017.0,570.5 L1017.5,564.2 L1018.0,563.4 L1018.4,560.7 L1018.9,559.6 L1019.4,554.8 L1019.9,552.7 L1020.4,558.1 L1021.0,567.8 L1021.5,572.2 L1022.0,570.5 L1022.5,560.6 L1023.0,557.7 L1023.6,551.3 L1024.1,549.9 L1024.6,544.1 L1025.1,554.1 L1025.6,559.1 L1026.0,565.9 L1026.5,570.4 L1027.0,575.3 L1027.4,569.0 L1027.8,561.3 L1028.3,574.1 L1028.7,588.7 L1029.2,598.8 L1029.6,614.8 L1030.1,627.0 L1030.6,620.6 L1031.2,608.8 L1031.7,601.9 L1032.2,606.3 L1032.7,615.8 L1033.2,620.7 L1033.7,616.5 L1034.2,607.3 L1034.6,602.3 L1035.1,592.4 L1035.6,589.4 L1036.1,581.8 L1036.7,579.1 L1037.2,572.2 L1037.7,574.5 L1038.1,573.7 L1038.6,575.5 L1039.0,576.4 L1039.5,581.6 L1040.0,585.9 L1040.5,592.1 L1040.9,592.3 L1041.4,599.7 L1041.9,601.9 L1042.4,601.7 L1042.9,596.6 L1043.5,597.6 L1044.0,593.5 L1044.5,593.6 L1045.0,589.4 L1045.5,592.7 L1046.0,595.0 L1046.5,599.3 L1047.0,598.2 L1047.4,602.2 L1047.9,601.2 L1048.4,605.7 L1048.9,606.6 L1049.4,599.4 L1050.0,595.1 L1050.5,589.4 L1051.0,590.2 L1051.5,594.3 L1052.0,595.7" fill="none" stroke="#6699d0" stroke-width="2.9" stroke-linejoin="round"/>
<rect x="134.5" y="1151.5" width="920.5" height="48.5" fill="#ebebeb"/>
<path d="M134.5,1199.6 L134.2,1197.3 L134.9,1197.2 L135.8,1197.2 L136.6,1197.3 L138.0,1196.9 L139.0,1197.2 L140.4,1197.0 L141.3,1197.0 L142.2,1197.0 L142.9,1197.4 L143.8,1197.3 L144.6,1197.2 L145.6,1197.3 L146.7,1197.1 L148.1,1197.2 L148.9,1197.2 L149.8,1197.2 L150.9,1197.4 L152.2,1197.4 L153.1,1197.4 L153.9,1197.4 L154.8,1197.5 L155.7,1197.5 L156.8,1197.4 L157.7,1197.3 L158.5,1197.3 L159.6,1197.2 L160.6,1197.1 L162.0,1197.3 L163.1,1197.2 L164.1,1197.1 L165.1,1197.2 L166.1,1197.3 L167.0,1197.3 L168.0,1197.2 L168.9,1197.2 L169.8,1197.2 L170.8,1197.2 L171.7,1197.2 L172.6,1197.3 L173.6,1197.3 L174.5,1197.4 L175.4,1197.4 L176.2,1197.3 L177.1,1197.3 L178.0,1197.3 L179.0,1197.4 L180.0,1197.4 L181.1,1197.4 L182.1,1197.4 L183.2,1197.3 L184.2,1197.3 L185.2,1197.3 L186.3,1197.3 L187.3,1197.3 L188.3,1197.3 L189.2,1197.3 L190.2,1197.3 L191.2,1197.3 L192.1,1197.3 L193.0,1197.3 L193.9,1197.3 L194.9,1197.3 L195.8,1197.3 L196.7,1197.2 L197.6,1197.2 L198.5,1197.1 L199.2,1196.9 L200.0,1196.8 L200.8,1196.7 L201.5,1196.5 L202.6,1196.6 L203.6,1196.7 L204.3,1196.6 L205.1,1196.4 L206.5,1196.6 L207.6,1196.2 L208.7,1195.7 L210.1,1195.0 L211.2,1195.9 L212.3,1196.7 L213.7,1196.5 L214.4,1195.8 L215.2,1195.1 L216.6,1196.0 L217.7,1196.1 L218.8,1196.3 L220.2,1195.8 L221.3,1195.7 L222.4,1195.6 L223.8,1195.0 L225.2,1195.5 L226.3,1195.0 L227.4,1194.3 L228.8,1193.2 L229.6,1193.9 L230.3,1194.5 L231.4,1194.2 L232.4,1193.9 L233.2,1194.2 L233.9,1194.5 L235.3,1195.9 L236.4,1195.5 L237.5,1195.0 L238.2,1195.6 L239.3,1195.5 L240.4,1195.3 L241.4,1195.6 L242.5,1196.0 L243.6,1196.2 L244.7,1196.3 L245.8,1196.4 L246.9,1196.4 L247.9,1196.2 L249.0,1195.9 L250.1,1195.5 L251.2,1195.0 L252.2,1194.9 L253.3,1194.6 L254.3,1194.4 L255.2,1194.2 L256.2,1194.0 L257.3,1195.2 L258.4,1196.2 L259.4,1196.2 L260.4,1196.2 L261.4,1196.2 L262.4,1196.2 L263.4,1196.1 L264.3,1196.0 L265.2,1195.9 L266.1,1195.8 L267.0,1195.7 L268.0,1195.6 L268.9,1195.5 L269.9,1195.4 L270.9,1195.1 L271.8,1194.9 L272.8,1194.7 L273.9,1194.6 L275.0,1194.5 L276.0,1194.4 L277.1,1194.2 L278.2,1194.2 L279.2,1194.1 L280.3,1194.0 L281.4,1193.8 L282.5,1194.1 L283.6,1194.3 L284.6,1194.1 L285.5,1193.9 L286.5,1193.6 L287.4,1194.0 L288.3,1194.3 L289.2,1194.5 L290.1,1194.8 L291.5,1195.2 L292.5,1195.4 L293.4,1195.5 L294.4,1195.7 L295.4,1195.8 L296.3,1196.0 L297.3,1196.1 L298.4,1195.6 L299.4,1195.0 L299.5,1195.0 L300.4,1195.4 L301.3,1195.7 L302.2,1195.9 L303.1,1195.7 L304.0,1195.5 L304.9,1195.2 L306.3,1195.9 L307.3,1196.0 L308.4,1196.0 L309.4,1196.1 L310.4,1196.0 L311.4,1195.8 L312.5,1195.6 L313.5,1195.4 L314.5,1195.5 L315.6,1195.7 L316.6,1195.8 L317.6,1195.9 L318.6,1195.8 L319.7,1195.7 L320.7,1195.6 L321.7,1195.7 L322.8,1195.9 L323.8,1196.0 L324.8,1195.8 L325.9,1195.6 L326.9,1195.4 L328.0,1194.6 L329.0,1194.4 L330.0,1194.2 L331.0,1194.0 L332.1,1193.5 L333.1,1192.9 L334.1,1192.3 L335.1,1193.4 L336.1,1193.0 L337.2,1192.4 L338.2,1191.8 L339.2,1192.4 L340.3,1192.8 L341.4,1191.5 L342.4,1190.0 L343.4,1189.4 L344.4,1189.0 L345.2,1189.9 L346.1,1190.9 L347.3,1192.1 L348.5,1193.1 L349.6,1193.9 L350.6,1194.6 L351.6,1194.9 L352.7,1195.2 L353.7,1195.5 L354.7,1195.2 L355.8,1195.0 L356.8,1194.8 L357.7,1195.0 L358.6,1195.1 L359.6,1195.4 L360.5,1195.5 L361.8,1195.2 L363.0,1194.8 L364.0,1195.0 L365.1,1195.1 L366.1,1195.3 L367.1,1195.4 L368.1,1195.3 L369.1,1195.2 L370.1,1194.8 L371.2,1194.5 L372.2,1194.0 L373.1,1193.9 L373.9,1193.8 L374.8,1193.7 L375.7,1193.6 L376.6,1194.0 L377.5,1194.4 L378.5,1194.8 L379.4,1195.2 L380.4,1195.0 L381.3,1194.8 L382.3,1194.6 L383.3,1194.4 L384.2,1194.2 L385.2,1194.0 L386.1,1194.3 L387.0,1194.5 L387.9,1194.8 L388.9,1195.0 L389.8,1195.3 L390.7,1195.5 L391.7,1195.4 L392.8,1195.3 L393.8,1195.2 L394.9,1195.0 L395.9,1194.9 L396.9,1194.9 L397.9,1194.9 L399.0,1195.0 L400.0,1195.0 L400.9,1194.8 L401.7,1194.7 L402.6,1194.5 L403.5,1194.5 L404.3,1194.6 L405.2,1194.6 L406.1,1194.4 L406.9,1194.3 L407.8,1194.1 L408.6,1194.3 L409.5,1194.5 L410.4,1194.2 L411.2,1193.9 L412.1,1192.9 L413.1,1192.5 L414.2,1192.1 L415.3,1192.7 L416.4,1193.3 L417.3,1193.2 L418.2,1193.0 L419.0,1192.9 L419.9,1192.7 L420.8,1192.0 L421.6,1191.3 L422.5,1192.0 L423.3,1192.6 L424.5,1191.0 L425.6,1189.3 L426.8,1188.9 L427.6,1190.3 L428.5,1191.6 L429.7,1192.5 L430.9,1192.7 L432.0,1193.0 L432.8,1191.6 L433.7,1191.7 L434.6,1191.8 L435.4,1192.0 L436.3,1192.1 L437.1,1192.7 L438.0,1193.3 L438.9,1193.1 L439.8,1193.0 L440.6,1192.9 L441.5,1192.8 L442.6,1193.1 L443.8,1193.3 L444.9,1193.6 L445.8,1193.4 L446.6,1193.3 L447.5,1193.1 L448.6,1193.3 L449.7,1193.5 L450.8,1193.6 L451.9,1193.8 L453.0,1193.9 L454.0,1194.0 L455.1,1194.1 L456.2,1194.3 L457.1,1194.2 L457.9,1194.0 L458.8,1193.9 L459.6,1194.7 L460.5,1195.4 L461.4,1194.9 L462.2,1194.4 L463.3,1194.4 L464.4,1194.4 L465.5,1194.4 L466.6,1194.3 L467.9,1194.0 L469.1,1193.7 L470.0,1193.6 L470.9,1193.5 L471.7,1193.5 L472.6,1193.3 L473.5,1193.4 L474.4,1193.5 L475.2,1193.5 L476.1,1193.7 L477.2,1194.1 L478.4,1194.4 L479.5,1194.8 L480.5,1194.6 L481.6,1194.4 L482.6,1194.3 L483.7,1194.1 L484.7,1194.0 L485.6,1194.3 L486.4,1194.5 L487.3,1194.7 L488.2,1194.9 L489.3,1194.9 L490.5,1194.8 L491.6,1194.8 L492.7,1194.9 L493.8,1195.0 L494.8,1195.1 L495.9,1195.3 L497.0,1195.2 L498.1,1194.9 L499.2,1194.7 L500.3,1194.5 L501.4,1194.6 L502.6,1194.8 L503.7,1195.0 L504.6,1194.9 L505.4,1194.9 L506.3,1194.8 L507.2,1194.8 L508.2,1194.7 L509.2,1194.6 L510.2,1194.5 L511.2,1194.5 L512.2,1194.4 L513.2,1194.3 L514.2,1194.4 L515.2,1194.6 L516.2,1194.7 L517.3,1194.9 L518.3,1195.0 L519.3,1195.1 L520.3,1195.0 L521.4,1195.0 L522.4,1194.9 L523.5,1194.9 L524.5,1194.8 L525.6,1194.7 L526.6,1194.6 L527.7,1194.6 L528.8,1194.5 L530.0,1193.9 L531.1,1193.8 L532.3,1193.8 L533.2,1193.4 L534.1,1193.2 L535.0,1193.0 L535.9,1192.6 L537.3,1190.5 L538.3,1188.9 L539.0,1190.2 L539.8,1191.3 L540.5,1192.0 L541.3,1192.6 L542.0,1192.0 L542.8,1191.4 L543.8,1192.6 L544.8,1191.1 L546.2,1192.4 L547.2,1192.0 L548.2,1191.4 L549.0,1190.3 L549.7,1189.0 L551.0,1188.4 L552.2,1187.7 L553.1,1189.0 L553.9,1189.4 L554.6,1189.8 L555.6,1188.4 L556.6,1188.4 L557.6,1188.3 L558.4,1189.6 L559.1,1190.8 L560.0,1191.3 L561.0,1191.6 L562.3,1188.9 L563.4,1189.1 L564.5,1189.4 L565.5,1191.4 L566.5,1191.5 L567.5,1191.7 L568.5,1191.9 L569.4,1190.3 L570.1,1190.2 L570.9,1190.1 L571.6,1190.5 L572.4,1190.9 L573.4,1190.7 L574.4,1190.6 L575.1,1189.9 L575.9,1189.2 L577.3,1189.5 L578.0,1189.9 L578.8,1190.5 L579.8,1190.9 L580.8,1191.1 L581.8,1191.4 L582.8,1190.6 L584.0,1190.7 L585.2,1191.0 L586.0,1191.5 L586.7,1192.1 L587.7,1191.9 L588.7,1191.8 L589.7,1191.7 L590.8,1191.6 L592.0,1191.5 L593.1,1191.3 L594.4,1191.8 L595.6,1192.2 L596.9,1192.0 L598.1,1191.6 L599.0,1191.7 L600.0,1191.8 L600.8,1191.6 L601.6,1191.6 L602.5,1191.1 L603.4,1190.6 L604.6,1190.8 L605.9,1190.9 L606.8,1191.6 L607.8,1192.2 L608.7,1191.9 L609.7,1191.6 L610.6,1191.2 L611.7,1192.0 L612.9,1192.3 L614.1,1192.6 L614.9,1193.5 L615.9,1193.3 L617.0,1193.1 L618.0,1192.7 L619.0,1193.0 L620.0,1193.3 L620.9,1193.6 L621.9,1193.9 L622.9,1193.6 L624.0,1193.3 L625.0,1193.0 L626.2,1192.7 L627.4,1192.4 L628.5,1192.0 L629.7,1191.5 L630.5,1191.2 L631.3,1190.7 L632.3,1190.7 L633.4,1190.5 L634.4,1190.4 L635.6,1189.8 L636.8,1189.0 L638.0,1188.8 L639.1,1188.6 L640.2,1189.0 L641.2,1189.5 L642.3,1190.0 L643.3,1189.7 L644.2,1189.3 L645.2,1189.0 L646.2,1188.5 L647.4,1188.8 L648.5,1189.1 L649.7,1189.5 L650.9,1189.9 L651.6,1190.4 L652.4,1190.7 L653.3,1190.6 L654.2,1190.5 L655.1,1190.4 L656.1,1190.2 L657.0,1190.1 L657.9,1189.9 L659.1,1191.3 L660.3,1192.5 L661.5,1192.7 L662.6,1192.8 L663.6,1192.3 L664.7,1191.8 L665.7,1191.1 L666.8,1191.1 L667.8,1190.9 L668.9,1190.8 L669.9,1190.7 L670.8,1190.5 L671.8,1190.4 L672.8,1190.2 L674.0,1190.5 L675.1,1190.9 L676.3,1191.5 L677.5,1192.1 L678.5,1192.4 L679.6,1192.7 L680.6,1193.0 L681.4,1193.5 L682.2,1193.8 L683.2,1193.5 L684.3,1193.2 L685.3,1192.9 L686.5,1193.4 L687.6,1193.9 L688.7,1193.8 L689.7,1193.7 L690.8,1193.6 L691.8,1193.9 L692.9,1194.2 L693.9,1194.4 L694.9,1194.5 L695.8,1194.6 L696.8,1194.7 L697.8,1194.8 L698.9,1194.4 L700.0,1194.0 L700.9,1194.0 L701.7,1193.7 L702.5,1193.5 L703.4,1193.3 L704.3,1193.2 L705.2,1193.0 L706.2,1193.4 L707.2,1193.3 L708.1,1193.1 L709.0,1192.9 L710.0,1192.8 L710.8,1193.0 L711.6,1193.3 L712.7,1193.5 L713.7,1193.7 L714.8,1193.0 L715.7,1193.1 L716.6,1193.2 L717.5,1193.3 L718.5,1192.8 L719.6,1192.3 L720.5,1192.5 L721.4,1192.6 L722.3,1192.7 L723.4,1193.2 L724.3,1193.1 L725.1,1193.2 L726.0,1193.3 L727.1,1193.5 L728.2,1193.7 L729.0,1193.6 L729.8,1193.4 L730.8,1193.9 L731.9,1194.3 L733.0,1194.4 L734.0,1194.5 L735.1,1194.6 L736.2,1194.8 L736.7,1194.0 L737.6,1194.1 L738.5,1194.2 L739.4,1194.2 L740.2,1193.9 L741.0,1193.7 L742.1,1193.7 L743.1,1193.6 L744.2,1193.5 L745.3,1194.0 L746.4,1194.3 L747.5,1194.4 L748.5,1194.5 L749.4,1194.2 L750.3,1194.0 L751.2,1193.8 L752.1,1193.6 L752.9,1193.5 L753.8,1193.4 L754.7,1193.6 L755.6,1193.8 L756.5,1194.0 L757.4,1193.9 L758.3,1193.7 L759.2,1193.5 L760.3,1193.4 L761.3,1193.3 L762.4,1193.2 L763.5,1192.8 L764.5,1192.3 L765.1,1192.6 L766.1,1191.9 L766.9,1190.6 L767.8,1189.9 L768.6,1189.1 L769.8,1188.9 L770.8,1189.5 L771.7,1190.0 L772.7,1190.5 L773.5,1190.0 L774.4,1189.4 L775.2,1189.6 L776.1,1189.9 L777.3,1188.1 L778.4,1189.3 L779.3,1188.9 L780.1,1188.6 L781.0,1188.2 L781.9,1188.0 L783.0,1188.7 L783.9,1188.3 L784.8,1187.8 L785.6,1188.4 L786.5,1189.0 L787.7,1187.2 L788.9,1186.9 L790.0,1186.6 L791.1,1186.1 L792.3,1185.8 L793.4,1184.0 L794.0,1183.5 L794.9,1182.9 L795.7,1182.6 L796.9,1181.7 L797.8,1181.4 L798.6,1181.2 L798.9,1176.5 L799.6,1169.4 L800.4,1172.2 L801.2,1174.3 L802.0,1172.7 L802.8,1170.9 L803.9,1172.4 L805.0,1173.7 L806.0,1173.3 L807.1,1173.0 L807.6,1175.6 L808.2,1175.0 L808.7,1177.4 L809.8,1179.3 L810.9,1180.7 L811.9,1178.3 L813.0,1174.1 L813.8,1172.4 L814.6,1170.2 L815.4,1172.0 L816.2,1174.0 L817.0,1172.5 L817.8,1170.6 L818.9,1175.0 L819.7,1173.0 L820.5,1170.5 L821.3,1172.4 L822.1,1173.9 L823.2,1176.7 L824.0,1174.5 L824.8,1172.3 L825.8,1170.6 L826.9,1168.7 L827.7,1169.9 L828.5,1171.4 L829.4,1170.6 L830.3,1169.7 L831.2,1168.7 L832.2,1171.4 L833.0,1173.4 L833.9,1175.2 L834.9,1186.4 L835.5,1185.4 L836.1,1187.3 L837.2,1189.5 L838.4,1188.9 L839.5,1188.5 L840.7,1186.7 L841.2,1183.9 L842.4,1182.5 L843.5,1182.3 L844.5,1182.3 L845.6,1177.8 L846.7,1177.3 L847.8,1176.8 L848.8,1178.6 L849.9,1176.6 L851.0,1174.6 L852.0,1173.0 L852.8,1175.2 L853.6,1177.3 L854.7,1174.6 L855.8,1171.6 L856.6,1171.7 L857.4,1172.1 L858.4,1177.6 L859.2,1177.2 L860.0,1176.8 L860.8,1174.7 L861.6,1172.4 L862.4,1171.2 L863.1,1170.1 L864.3,1169.4 L865.5,1168.5 L865.9,1164.8 L867.0,1164.1 L868.1,1163.8 L869.2,1166.1 L870.2,1168.5 L871.4,1167.2 L872.5,1165.6 L873.7,1165.2 L874.9,1164.5 L875.6,1168.5 L876.6,1168.9 L877.2,1174.9 L878.4,1174.5 L879.6,1174.1 L880.3,1170.6 L881.5,1169.9 L882.7,1169.2 L883.9,1169.8 L885.0,1170.1 L885.8,1172.1 L886.6,1173.9 L887.8,1173.0 L889.0,1172.4 L889.8,1171.0 L890.5,1169.7 L891.7,1171.0 L892.9,1172.4 L893.9,1171.5 L895.0,1170.8 L896.0,1170.1 L897.1,1171.8 L898.3,1173.5 L899.4,1174.1 L900.4,1174.9 L901.5,1175.7 L902.6,1174.4 L903.8,1173.5 L905.0,1174.1 L906.2,1174.7 L907.2,1174.3 L908.3,1173.5 L909.3,1173.0 L910.5,1174.7 L911.6,1176.6 L912.4,1176.1 L913.2,1175.3 L914.2,1174.7 L915.3,1174.4 L916.3,1174.1 L917.3,1174.6 L918.3,1175.1 L919.3,1175.7 L920.3,1176.0 L921.5,1176.3 L922.6,1176.6 L923.4,1178.3 L924.2,1180.1 L925.2,1179.4 L926.2,1178.4 L927.1,1177.6 L928.1,1176.7 L929.2,1177.9 L930.4,1179.0 L931.2,1180.2 L932.0,1181.3 L932.8,1180.9 L933.6,1180.6 L934.8,1181.2 L935.9,1181.8 L936.7,1183.5 L937.5,1184.2 L938.2,1184.5 L939.4,1183.3 L940.6,1181.9 L941.6,1182.4 L942.7,1183.1 L943.7,1183.8 L944.9,1182.9 L946.1,1182.2 L947.1,1182.6 L948.2,1182.9 L949.2,1183.3 L950.0,1181.2 L950.8,1178.8 L952.0,1178.4 L953.1,1178.0 L954.0,1178.2 L955.0,1178.5 L955.8,1179.3 L956.6,1179.8 L957.8,1179.4 L958.9,1178.9 L960.1,1177.5 L961.3,1175.9 L962.0,1175.5 L962.8,1174.9 L964.0,1174.3 L965.2,1173.9 L966.4,1174.1 L967.5,1174.3 L968.3,1175.0 L969.1,1176.1 L969.9,1175.7 L970.6,1175.1 L971.5,1174.9 L972.5,1173.9 L973.8,1177.7 L974.5,1178.2 L975.3,1179.0 L976.1,1178.3 L976.9,1177.3 L978.1,1178.0 L979.3,1178.5 L980.0,1178.2 L980.8,1177.7 L982.0,1176.9 L983.2,1176.6 L984.4,1177.2 L985.5,1177.3 L986.7,1178.0 L987.9,1179.0 L988.6,1179.4 L989.4,1179.7 L990.5,1179.5 L991.5,1179.3 L992.6,1178.9 L993.8,1178.2 L994.9,1177.5 L996.1,1178.9 L997.3,1180.0 L998.0,1182.6 L999.2,1182.0 L1000.4,1181.2 L1001.2,1179.0 L1002.0,1177.3 L1003.0,1176.6 L1004.1,1176.0 L1005.1,1175.7 L1006.2,1174.4 L1007.4,1172.6 L1008.2,1172.1 L1009.0,1171.1 L1009.8,1169.5 L1010.6,1168.0 L1011.8,1167.4 L1012.9,1167.0 L1013.7,1162.5 L1014.9,1164.7 L1016.0,1166.7 L1017.0,1165.9 L1018.0,1164.8 L1018.9,1163.7 L1019.9,1162.7 L1020.7,1164.5 L1021.5,1166.2 L1022.5,1164.6 L1023.6,1163.1 L1024.6,1161.0 L1025.8,1164.2 L1027.0,1166.7 L1027.8,1164.3 L1028.9,1169.6 L1030.1,1174.3 L1030.9,1172.6 L1031.7,1170.9 L1032.5,1172.3 L1033.2,1173.5 L1034.4,1171.6 L1035.6,1169.0 L1036.4,1167.4 L1037.2,1166.2 L1038.3,1167.4 L1039.5,1167.7 L1040.7,1169.2 L1041.9,1170.9 L1042.9,1170.2 L1044.0,1169.7 L1045.0,1169.0 L1046.0,1169.8 L1047.0,1170.4 L1047.9,1171.2 L1048.9,1171.6 L1049.7,1170.3 L1050.5,1169.0 L1051.2,1169.6 L1052.0,1170.0 L1053,1199.6 Z" fill="#888"/>
<g><line x1="142.3" y1="1151.5" x2="142.3" y2="1200" stroke="#fafafa" stroke-width="1"/><line x1="283.5" y1="1151.5" x2="283.5" y2="1200" stroke="#fafafa" stroke-width="1"/><line x1="426.2" y1="1151.5" x2="426.2" y2="1200" stroke="#fafafa" stroke-width="1"/><line x1="568.6" y1="1151.5" x2="568.6" y2="1200" stroke="#fafafa" stroke-width="1"/><line x1="710.9" y1="1151.5" x2="710.9" y2="1200" stroke="#fafafa" stroke-width="1"/><line x1="852.0" y1="1151.5" x2="852.0" y2="1200" stroke="#fafafa" stroke-width="1"/><line x1="995.3" y1="1151.5" x2="995.3" y2="1200" stroke="#fafafa" stroke-width="1"/></g>
<g font-family="Liberation Sans" font-size="17" fill="#fff" opacity="0.9"><text x="146.3" y="1192">1960</text><text x="287.5" y="1192">1970</text><text x="430.2" y="1192">1980</text><text x="572.6" y="1192">1990</text><text x="714.9" y="1192">2000</text><text x="856.0" y="1192">2010</text><text x="999.3" y="1192">2020</text></g>
<line x1="134.5" y1="1200" x2="1055" y2="1200" stroke="#999" stroke-width="1"/>
<defs><filter id="sh" x="-50%" y="-50%" width="200%" height="200%"><feDropShadow dx="0.5" dy="1.5" stdDeviation="1.6" flood-color="#000" flood-opacity="0.35"/></filter></defs>
<g filter="url(#sh)">
<circle cx="135.5" cy="1175.5" r="19" fill="#fff"/>
<circle cx="1054.3" cy="1175.5" r="19" fill="#fff"/>
</g>
<g stroke="#8a8a8a" stroke-width="1.1"><line x1="134.6" y1="1169.2" x2="134.6" y2="1182.8"/><line x1="138.4" y1="1169.2" x2="138.4" y2="1182.8"/><line x1="1052.4" y1="1169.2" x2="1052.4" y2="1182.8"/><line x1="1056.2" y1="1169.2" x2="1056.2" y2="1182.8"/></g>
</svg>
</body></html>
